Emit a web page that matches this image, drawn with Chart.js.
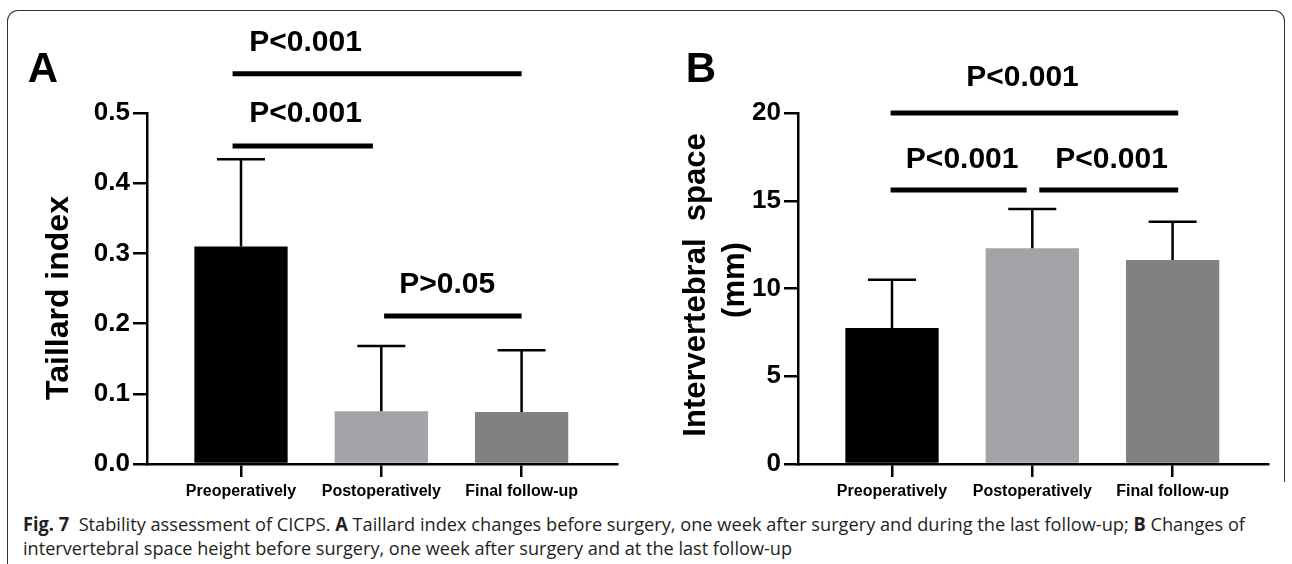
<!DOCTYPE html>
<html><head><meta charset="utf-8">
<script src="https://cdn.jsdelivr.net/npm/chart.js@4.4.1/dist/chart.umd.min.js"></script>
<style>
html,body{margin:0;padding:0;background:#fff;width:1292px;height:564px;overflow:hidden;}
#frame{position:absolute;left:7px;top:10px;width:1278px;height:472px;border:1.5px solid #333;border-bottom:none;border-radius:11px 11px 0 0;box-sizing:border-box;}
#frame2{position:absolute;left:7px;top:480px;width:0;height:84px;border-left:1.5px solid #333;}
.cv{position:absolute;top:0;width:646px;height:500px;}
#capt{position:absolute;left:23px;top:512px;font-family:"Open Sans","Noto Sans",sans-serif;font-size:19px;color:#231f20;}
.line{white-space:nowrap;transform-origin:0 0;height:24px;line-height:24px;width:max-content;}
</style></head>
<body>
<div id="frame"></div><div id="frame2"></div>
<canvas id="cA" class="cv" style="left:0" width="646" height="500"></canvas>
<canvas id="cB" class="cv" style="left:646px" width="646" height="500"></canvas>
<div id="capt"><div class="line" id="l1"><b>Fig. 7</b>&nbsp; Stability assessment of CICPS. <b>A</b> Taillard index changes before surgery, one week after surgery and during the last follow-up; <b>B</b> Changes of</div><div class="line" id="l2">intervertebral space height before surgery, one week after surgery and at the last follow-up</div></div>
<script>
// ---- data ----
const categories = ['Preoperatively', 'Postoperatively', 'Final follow-up'];
const barColors = ['#000000', '#a3a3a8', '#818181'];

const taillardMean = [0.310, 0.075, 0.074];
const taillardSD   = [0.124, 0.093, 0.088];
const taillardTicks = [0, 0.1, 0.2, 0.3, 0.4, 0.5];

const spaceMean = [7.75, 12.30, 11.62];
const spaceSD   = [2.75, 2.23, 2.18];
const spaceTicks = [0, 5, 10, 15, 20];

// significance brackets: [fromIndex, toIndex, yValue]
const sigLinesA = [[-0.06, 2.0, 0.556], [-0.06, 0.94, 0.453], [1.02, 2.0, 0.211]];
// labels: [text, xIndex, yValue(center)]
const sigTextA = [['P<0.001', 0.46, 0.603], ['P<0.001', 0.46, 0.502], ['P>0.05', 1.47, 0.259]];

const sigLinesB = [[-0.01, 2.04, 20.0], [-0.01, 0.96, 15.61], [1.05, 2.04, 15.61]];
const sigTextB = [['P<0.001', 0.93, 22.17], ['P<0.001', 0.50, 17.49], ['P<0.001', 1.565, 17.49]];

const FONT = '"Liberation Sans", Arial, Helvetica, sans-serif';

const overlay = {
  id: 'overlay',
  afterDraw(chart, args, o) {
    const {ctx} = chart;
    const x = chart.scales.x, y = chart.scales.y;
    ctx.save();
    ctx.strokeStyle = '#000'; ctx.fillStyle = '#000';
    // error bars (upper)
    ctx.lineWidth = 2.5; ctx.lineCap = 'butt';
    o.means.forEach((m, i) => {
      const px = x.getPixelForValue(i);
      const y0 = y.getPixelForValue(m), y1 = y.getPixelForValue(m + o.sds[i]);
      ctx.beginPath();
      ctx.moveTo(px, y0); ctx.lineTo(px, y1);
      ctx.moveTo(px - 24, y1); ctx.lineTo(px + 24, y1);
      ctx.stroke();
    });
    // significance lines
    ctx.lineWidth = 5;
    o.sigLines.forEach(([a, b, v]) => {
      const py = y.getPixelForValue(v);
      ctx.beginPath();
      ctx.moveTo(x.getPixelForValue(a), py); ctx.lineTo(x.getPixelForValue(b), py);
      ctx.stroke();
    });
    ctx.font = 'bold 30px ' + FONT;
    ctx.textAlign = 'center'; ctx.textBaseline = 'alphabetic';
    o.sigText.forEach(([t, a, v]) => {
      ctx.fillText(t, x.getPixelForValue(a), y.getPixelForValue(v) + 0.358 * 30);
    });
    // panel letter
    ctx.font = 'bold 42px ' + FONT;
    ctx.fillText(o.panel[0], o.panel[1], o.panel[2]);
    // y axis title
    ctx.font = 'bold ' + o.titleSize + 'px ' + FONT;
    o.title.forEach(([t, bx, cy]) => {
      ctx.save();
      ctx.translate(bx, cy);
      ctx.rotate(-Math.PI / 2);
      ctx.textAlign = 'center'; ctx.textBaseline = 'alphabetic';
      ctx.fillText(t, 0, 0);
      ctx.restore();
    });
    ctx.restore();
  }
};

function makeChart(id, means, sds, yTicks, yMax, fmt, pad, yWidth, extra) {
  return new Chart(document.getElementById(id), {
    type: 'bar',
    data: {
      datasets: [{
        data: means.map((v, i) => ({x: i, y: v})),
        backgroundColor: barColors,
        borderWidth: 0,
        barPercentage: 0.665,
        categoryPercentage: 1
      }]
    },
    options: {
      responsive: false,
      animation: false,
      events: [],
      layout: {padding: pad},
      plugins: {legend: {display: false}, tooltip: {enabled: false}, overlay: extra},
      scales: {
        x: {
          type: 'linear', min: -0.67, max: 2.68, offset: false,
          afterBuildTicks: s => { s.ticks = categories.map((c, i) => ({value: i})); },
          afterFit: s => { s.height = 36; },
          grid: {offset: false, drawOnChartArea: false, drawTicks: true, tickLength: 13, color: '#000', lineWidth: 2.5},
          border: {display: true, color: '#000', width: 2.5},
          ticks: {callback: v => categories[v], color: '#000', padding: 5, maxRotation: 0, autoSkip: false,
                  font: {family: FONT, size: 16, weight: 'bold'}}
        },
        y: {
          type: 'linear', min: 0, max: yMax,
          afterBuildTicks: s => { s.ticks = yTicks.map(v => ({value: v})); },
          afterFit: s => { s.width = yWidth; },
          grid: {drawOnChartArea: false, drawTicks: true, tickLength: 14, color: '#000', lineWidth: 2.5},
          border: {display: true, color: '#000', width: 2.5},
          ticks: {callback: fmt, color: '#000', padding: 3,
                  font: {family: FONT, size: 26, weight: 'bold'}}
        }
      }
    },
    plugins: [overlay]
  });
}

makeChart('cA', taillardMean, taillardSD, taillardTicks, 0.5, v => v.toFixed(1),
  {left: 0, right: 29, top: 113, bottom: 0}, 147,
  {means: taillardMean, sds: taillardSD, sigLines: sigLinesA, sigText: sigTextA,
   panel: ['A', 43, 82], titleSize: 32, title: [['Taillard index', 68, 298]]});

makeChart('cB', spaceMean, spaceSD, spaceTicks, 20, v => String(v),
  {left: 0, right: 24, top: 113, bottom: 0}, 152,
  {means: spaceMean, sds: spaceSD, sigLines: sigLinesB, sigText: sigTextB,
   panel: ['B', 55, 82], titleSize: 31, title: [['Intervertebral  space', 59, 285], ['(mm)', 98, 280]]});

// caption fit
function fitLine(id, target) {
  const el = document.getElementById(id);
  const w = el.getBoundingClientRect().width;
  el.style.transform = 'scaleX(' + (target / w) + ')';
}
fitLine('l1', 1222);
fitLine('l2', 769);
</script>
</body></html>
